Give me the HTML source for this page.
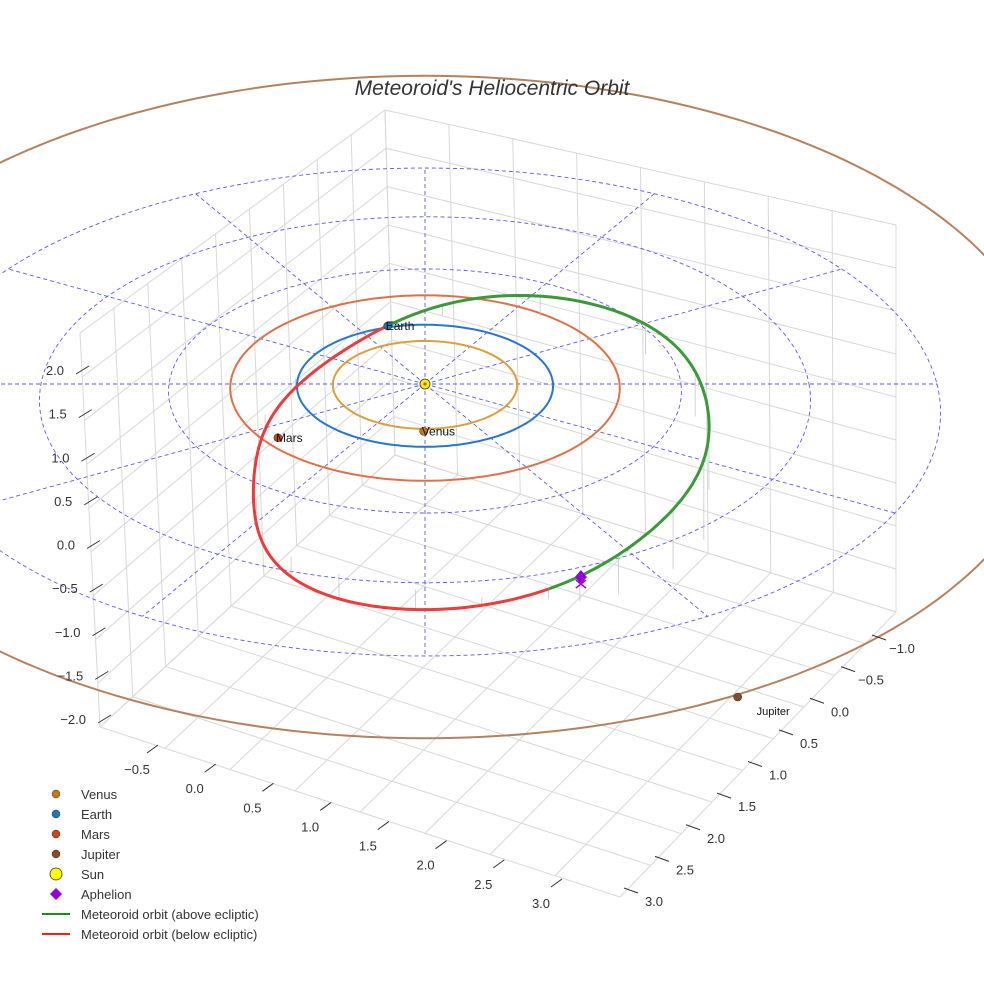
<!DOCTYPE html>
<html><head><meta charset="utf-8">
<style>
html,body{margin:0;padding:0;background:#fff;}
svg{display:block;font-family:"Liberation Sans",sans-serif;}
</style></head>
<body>
<svg id="chart" width="984" height="984" viewBox="0 0 984 984" xmlns="http://www.w3.org/2000/svg">
<rect width="984" height="984" fill="#fff"/>
<g id="box"></g>
<g id="ecl"></g>
<g id="orbits"></g>
<g id="met"></g>
<g id="pts"></g>
<g id="ticks"></g>
<text x="492" y="95" text-anchor="middle" font-size="21" font-style="italic" fill="#333">Meteoroid's Heliocentric Orbit</text>
<g id="legend"></g>
</svg>
<script>
// ---- data ----
const planetNames = ["Venus","Earth","Mars","Jupiter"];
const planetRadii = [0.72, 1.0, 1.52, 5.6];
const planetAxisRatio = [1, 1, 1, 0.88];
const planetCenterY = [0, 0, 0, -0.53];
const planetX = [-0.01, -0.30, -1.12, 2.15];
const planetY = [0.76, -0.98, 0.86, 4.54];
const planetColors = ["#d9a040","#2a75d0","#e0704a","#b5825f"];
const dotColors = ["#c87a10","#1f77b4","#c8481a","#8b4a2a"];
const gridRadii = [1,2,3,4];
const gridAngles = [0,30,60,90,120,150,180,210,240,270,300,330];
const orbitX = [-0.30,0.12,0.95,1.78,2.11,2.20,2.09,1.83,1.41,1.12,0.87,0.40,-0.06,-0.61,-0.97,-1.23,-1.29,-1.21,-1.02,-0.66];
const orbitY = [-0.98,-1.38,-1.49,-1.01,-0.21,0.58,1.20,1.94,2.60,2.92,3.08,3.32,3.35,3.24,2.92,2.14,1.46,0.74,0.05,-0.56];
const aboveCount = 11; // points 0..10 above ecliptic
const dropLen = [0,10,20,30,45,70,80,60,40,25,10,8,20,25,20,25,20,15,10,5];
const aphelionX = 1.12, aphelionY = 2.92;
const zTicks = ["2.0","1.5","1.0","0.5","0.0","\u22120.5","\u22121.0","\u22121.5","\u22122.0"];
const zVals = [2,1.5,1,0.5,0,-0.5,-1,-1.5,-2];
const xTicks = ["\u22120.5","0.0","0.5","1.0","1.5","2.0","2.5","3.0"];
const xVals = [-0.5,0,0.5,1,1.5,2,2.5,3];
const yTicks = ["\u22121.0","\u22120.5","0.0","0.5","1.0","1.5","2.0","2.5","3.0"];
const yVals = [-1,-0.5,0,0.5,1,1.5,2,2.5,3];

const NS="http://www.w3.org/2000/svg";
function mk(tag,attrs,parent){const e=document.createElementNS(NS,tag);for(const k in attrs)e.setAttribute(k,attrs[k]);parent.appendChild(e);return e;}
function P(X,Y){return [425+128*X*(1+0.03*Y), 384+61*Y+1.75*Y*Y];}

// ---- box grid ----
const box=document.getElementById('box');
const A=[100,727],F=[620,897],R=[896,612],K=[395,455],A2=[80,333],K2=[385,110],R2=[896,225];
function lerp(p,q,t){return [p[0]+(q[0]-p[0])*t,p[1]+(q[1]-p[1])*t];}
function quad(p00,p10,p01,p11,n,m){
  for(let i=0;i<=n;i++){const t=i/n;const a=lerp(p00,p10,t),b=lerp(p01,p11,t);
    const l=mk('line',{x1:a[0],y1:a[1],x2:b[0],y2:b[1],stroke:'#d8d8d8','stroke-width':1},box);
    
    }
  for(let j=0;j<=m;j++){const t=j/m;const a=lerp(p00,p01,t),b=lerp(p10,p11,t);
    const l=mk('line',{x1:a[0],y1:a[1],x2:b[0],y2:b[1],stroke:'#d8d8d8','stroke-width':1},box);
    
    }
}
quad(A,F,K,R,8,9);
quad(A,K,A2,K2,9,9);
quad(K,R,K2,R2,8,9);

// ---- ecliptic dashed grid ----
const ecl=document.getElementById('ecl');
function ring(r,ratio,cy,g,stroke,w,dash,name){
  let d='';for(let i=0;i<=240;i++){const a=i/240*2*Math.PI;const p=P(ratio*r*Math.cos(a),cy+r*Math.sin(a));d+=(i?'L':'M')+p[0].toFixed(1)+' '+p[1].toFixed(1);}
  const e=mk('path',{d:d,fill:'none',stroke:stroke,'stroke-width':w},g);
  if(dash)e.setAttribute('stroke-dasharray',dash);
  
  
}
gridRadii.forEach(r=>ring(r,1,0,ecl,'#5a5aee',0.9,'4,3','ecliptic-ring'));
gridAngles.forEach(a=>{const rad=a*Math.PI/180;const p=P(4*Math.cos(rad),4*Math.sin(rad));
  const l=mk('line',{x1:425,y1:384,x2:p[0],y2:p[1],stroke:'#5a5aee','stroke-width':0.9,'stroke-dasharray':'4,3'},ecl);
  
  });

// ---- planet orbits ----
const orb=document.getElementById('orbits');
planetRadii.forEach((r,i)=>ring(r,planetAxisRatio[i],planetCenterY[i],orb,planetColors[i],2,null,'orbit-'+planetNames[i].toLowerCase()));

// ---- meteoroid orbit: smooth periodic fit through sampled points ----
const met=document.getElementById('met');
const N=orbitX.length;
const tt=[0];let S=0;
for(let i=1;i<=N;i++){const j=i%N;S+=Math.hypot(orbitX[j]-orbitX[i-1],orbitY[j]-orbitY[i-1]);if(i<N)tt.push(S);}
const tp=tt.map(s=>s/S*2*Math.PI);
const H=5;
function basis(t){const b=[1];for(let h=1;h<=H;h++){b.push(Math.cos(h*t),Math.sin(h*t));}return b;}
function fit(vals){
  const M=2*H+1;const AtA=[];const Atb=[];
  for(let r=0;r<M;r++){AtA.push(new Array(M).fill(0));Atb.push(0);}
  tp.forEach((t,i)=>{const b=basis(t);const w=(i===0)?20:1;for(let r=0;r<M;r++){Atb[r]+=w*b[r]*vals[i];for(let c=0;c<M;c++)AtA[r][c]+=w*b[r]*b[c];}});
  for(let c=0;c<M;c++){let p=c;for(let r=c+1;r<M;r++)if(Math.abs(AtA[r][c])>Math.abs(AtA[p][c]))p=r;
    [AtA[c],AtA[p]]=[AtA[p],AtA[c]];[Atb[c],Atb[p]]=[Atb[p],Atb[c]];
    for(let r=0;r<M;r++){if(r===c)continue;const f=AtA[r][c]/AtA[c][c];for(let k=c;k<M;k++)AtA[r][k]-=f*AtA[c][k];Atb[r]-=f*Atb[c];}}
  return Atb.map((v,i)=>v/AtA[i][i]);
}
const cX=fit(orbitX),cY=fit(orbitY);
function evalF(c,t){const b=basis(t);return b.reduce((s,v,i)=>s+v*c[i],0);}
function seg(t0,t1){let d='';const n=160;for(let k=0;k<=n;k++){const t=t0+(t1-t0)*k/n;const p=P(evalF(cX,t),evalF(cY,t));d+=(k?'L':'M')+p[0].toFixed(1)+' '+p[1].toFixed(1);}return d;}
const tSplit=tp[aboveCount-1];
orbitX.forEach((x,i)=>{const len=dropLen[i]||0;if(len>0){const p=P(evalF(cX,tp[i]),evalF(cY,tp[i]));
  const l=mk('line',{x1:p[0],y1:p[1],x2:p[0],y2:p[1]+(i<aboveCount?len:-len),stroke:'#c8c8c8','stroke-width':0.8},met);
  
  }});
const green=mk('path',{d:seg(0,tSplit),fill:'none',stroke:'#3a9a3a','stroke-width':3},met);


const red=mk('path',{d:seg(tSplit,2*Math.PI),fill:'none',stroke:'#ee3b3b','stroke-width':3},met);



// ---- bodies ----
const pg=document.getElementById('pts');
planetNames.forEach((n,i)=>{const p=P(planetX[i],planetY[i]);
  const c=mk('circle',{cx:p[0],cy:p[1],r:4,fill:dotColors[i],stroke:'#333','stroke-width':0.6},pg);
  
  
  const t=mk('text',{x:p[0]+(i===3?19:-2),y:p[1]+(i===3?18:4),'font-size':i===3?11:12,fill:'#111'},pg);
  t.textContent=n;
  
  });
const sp=P(0,0);
const sun=mk('circle',{cx:sp[0],cy:sp[1],r:5,fill:'#ffee00',stroke:'#333','stroke-width':0.8},pg);


const sunc=mk('circle',{cx:sp[0],cy:sp[1],r:1.6,fill:'#8a7a20'},pg);


const ap=P(aphelionX,aphelionY);
const dia=mk('path',{d:`M${ap[0]} ${ap[1]-7}L${ap[0]+6} ${ap[1]}L${ap[0]} ${ap[1]+7}L${ap[0]-6} ${ap[1]}Z`,fill:'#9400d3'},pg);


const xm=mk('path',{d:`M${ap[0]-5} ${ap[1]+3}L${ap[0]+5} ${ap[1]+11}M${ap[0]+5} ${ap[1]+3}L${ap[0]-5} ${ap[1]+11}`,stroke:'#9400d3','stroke-width':1.5},pg);



// ---- ticks ----
const tg=document.getElementById('ticks');
function zPos(v){const t=(2-v)/4;return [64+22*t,370+349*t];}
zTicks.forEach((s,i)=>{const p=zPos(zVals[i]);
  const t=mk('text',{x:p[0],y:p[1]+5,'text-anchor':'end','font-size':13,fill:'#333'},tg);t.textContent=s;
  
  
  const l=mk('line',{x1:p[0]+12,y1:p[1]+4,x2:p[0]+25,y2:p[1]-4,stroke:'#333','stroke-width':1},tg);
  
  });
function xPos(v){const t=(v+0.5)/3.5;return [137+404*t,769+134*t];}
xTicks.forEach((s,i)=>{const p=xPos(xVals[i]);
  const t=mk('text',{x:p[0],y:p[1]+5,'text-anchor':'middle','font-size':13,fill:'#333'},tg);t.textContent=s;
  
  
  const l=mk('line',{x1:p[0]+10,y1:p[1]-16,x2:p[0]+21,y2:p[1]-24,stroke:'#333','stroke-width':1},tg);
  
  });
function yPos(v){const t=(v+1)/4;return [902-248*t,648+253*t];}
yTicks.forEach((s,i)=>{const p=yPos(yVals[i]);
  const t=mk('text',{x:p[0],y:p[1]+5,'text-anchor':'middle','font-size':13,fill:'#333'},tg);t.textContent=s;
  
  
  const l=mk('line',{x1:p[0]-30,y1:p[1]-13,x2:p[0]-16,y2:p[1]-8,stroke:'#333','stroke-width':1},tg);
  
  });

// ---- legend ----
const lg=document.getElementById('legend');
const legNames=["Venus","Earth","Mars","Jupiter","Sun","Aphelion","Meteoroid orbit (above ecliptic)","Meteoroid orbit (below ecliptic)"];
legNames.forEach((n,i)=>{const y=794+20*i;
  let m;
  if(i<4){m=mk('circle',{cx:56,cy:y,r:4,fill:dotColors[i],stroke:'#333','stroke-width':0.5},lg);}
  else if(i===4){m=mk('circle',{cx:56,cy:y,r:6,fill:'#ffff00',stroke:'#333','stroke-width':0.8},lg);}
  else if(i===5){m=mk('path',{d:`M56 ${y-6}L62 ${y}L56 ${y+6}L50 ${y}Z`,fill:'#9400d3'},lg);}
  else {m=mk('line',{x1:42,y1:y,x2:70,y2:y,stroke:i===6?'#1a8a1a':'#ee2222','stroke-width':2},lg);}
  
  
  const t=mk('text',{x:81,y:y+5,'font-size':13,fill:'#333'},lg);t.textContent=n;
  
  });
</script>
</body></html>
